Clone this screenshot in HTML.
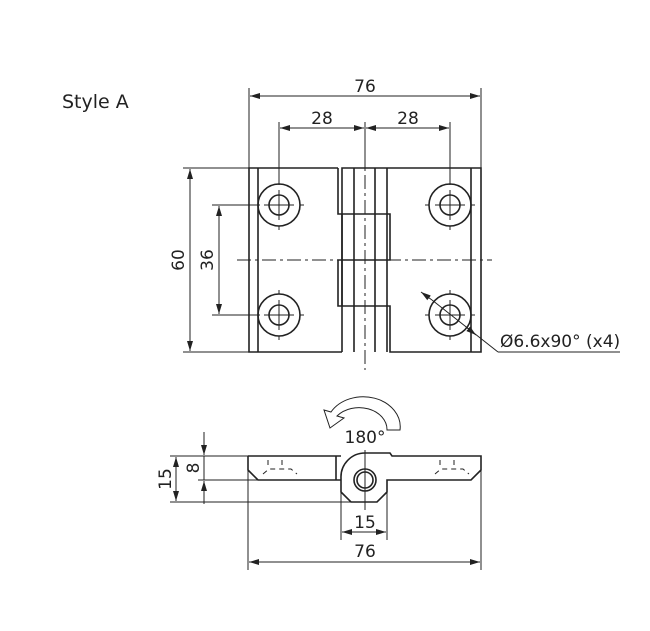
<!DOCTYPE html>
<html><head><meta charset="utf-8"><style>
html,body{margin:0;padding:0;background:#fff}
svg{display:block}
text{font-family:"DejaVu Sans","Liberation Sans",sans-serif;fill:#222}
</style></head><body>
<svg width="650" height="631" viewBox="0 0 650 631" xmlns="http://www.w3.org/2000/svg">
<defs>
<marker id="a" viewBox="0 0 10 6" refX="10" refY="3" markerWidth="10" markerHeight="6" orient="auto-start-reverse" markerUnits="userSpaceOnUse"><path d="M0,0 L10,3 L0,6 z" fill="#222"/></marker>
</defs>
<text x="62" y="108" font-size="19">Style A</text>
<g stroke="#222" fill="none" stroke-width="1">
<line x1="249" y1="88" x2="249" y2="168"/><line x1="481" y1="88" x2="481" y2="168"/>
<line x1="250" y1="96" x2="480" y2="96" marker-start="url(#a)" marker-end="url(#a)"/>
<line x1="279" y1="122" x2="279" y2="185"/><line x1="450" y1="122" x2="450" y2="185"/><line x1="365" y1="122" x2="365" y2="168"/>
<line x1="280" y1="128" x2="364" y2="128" marker-start="url(#a)" marker-end="url(#a)"/>
<line x1="366" y1="128" x2="449" y2="128" marker-start="url(#a)" marker-end="url(#a)"/>
<line x1="183" y1="168" x2="249" y2="168"/><line x1="183" y1="352" x2="249" y2="352"/>
<line x1="190" y1="169" x2="190" y2="351" marker-start="url(#a)" marker-end="url(#a)"/>
<line x1="212" y1="205" x2="260" y2="205"/><line x1="212" y1="315" x2="260" y2="315"/>
<line x1="219" y1="206" x2="219" y2="314" marker-start="url(#a)" marker-end="url(#a)"/>
</g>
<text x="0" y="0" font-size="17" transform="translate(184,260) rotate(-90)" text-anchor="middle">60</text>
<text x="0" y="0" font-size="17" transform="translate(213,260) rotate(-90)" text-anchor="middle">36</text>
<text x="365" y="92" font-size="17" text-anchor="middle">76</text>
<text x="322" y="124" font-size="17" text-anchor="middle">28</text>
<text x="408" y="124" font-size="17" text-anchor="middle">28</text>
<g stroke="#222" fill="none" stroke-width="1.6">
<path d="M338,168 H249 V352 H342"/>
<line x1="258" y1="168" x2="258" y2="352"/>
<path d="M338,168 V214 H390 V260 H338 V306 H390 V352 H481 V168 H342 V352"/>
<line x1="354" y1="168" x2="354" y2="352"/>
<line x1="375" y1="168" x2="375" y2="352"/>
<line x1="387" y1="168" x2="387" y2="352"/>
<line x1="471" y1="168" x2="471" y2="352"/>
<line x1="342" y1="214" x2="342" y2="306"/>
<circle cx="279" cy="205" r="21"/><circle cx="279" cy="205" r="10"/>
<circle cx="450" cy="205" r="21"/><circle cx="450" cy="205" r="10"/>
<circle cx="279" cy="315" r="21"/><circle cx="279" cy="315" r="10"/>
<circle cx="450" cy="315" r="21"/><circle cx="450" cy="315" r="10"/>
</g>
<g stroke="#222" stroke-width="1" fill="none" stroke-dasharray="14,4,3,4">
<line x1="237" y1="260" x2="492" y2="260"/>
<line x1="365" y1="150" x2="365" y2="370"/>
</g>
<g stroke="#222" stroke-width="1" fill="none">
<path d="M279,190 v30 M264,205 h30 M279,180 v4 M279,226 v4 M254,205 h4 M300,205 h4"/>
<path d="M450,190 v30 M435,205 h30 M450,180 v4 M450,226 v4 M425,205 h4 M471,205 h4"/>
<path d="M279,300 v30 M264,315 h30 M279,290 v4 M279,336 v4 M254,315 h4 M300,315 h4"/>
<path d="M450,300 v30 M435,315 h30 M450,290 v4 M450,336 v4 M425,315 h4 M471,315 h4"/>
</g>
<g stroke="#222" stroke-width="1" fill="none">
<line x1="421" y1="292" x2="432" y2="300" marker-start="url(#a)"/>
<line x1="432" y1="300" x2="498" y2="352" />
<line x1="466" y1="327" x2="476" y2="335" marker-end="url(#a)"/>
<line x1="498" y1="352" x2="620" y2="352"/>
</g>
<text x="500" y="347" font-size="17">Ø6.6x90° (x4)</text>
<g stroke="#222" stroke-width="1" fill="#fff">
<path d="M400,430 A37,30 0 0 0 331,412 L324,410 L330,428 L344,418 L337,416 A28,22 0 0 1 387,430 Z"/>
</g>
<text x="365" y="443" font-size="17" text-anchor="middle">180°</text>
<g stroke="#222" stroke-width="1.6" fill="none">
<path d="M248,456 H336 M248,456 V470 L258,480 H341"/>
<path d="M336,456 H341 M341,480 V492 L351,502 H377 L387,492 V480 H471 L481,470 V456 H392 L390,453 H365 A24,24 0 0 0 341,478 Z"/>
<line x1="336" y1="456" x2="336" y2="480"/>
<circle cx="365" cy="480" r="11"/><circle cx="365" cy="480" r="8"/>
</g>
<g stroke="#222" stroke-width="1" fill="none" stroke-dasharray="5,4">
<path d="M268,460 v6 M282,460 v6 M263,474 l6,-5 h22 l6,5"/>
<path d="M440,460 v6 M454,460 v6 M435,474 l6,-5 h22 l6,5"/>
</g>
<g stroke="#222" stroke-width="1" fill="none">
<line x1="365" y1="450" x2="365" y2="510"/>
<line x1="170" y1="456" x2="248" y2="456"/><line x1="198" y1="480" x2="260" y2="480"/><line x1="170" y1="502" x2="351" y2="502"/>
<line x1="176" y1="457" x2="176" y2="501" marker-start="url(#a)" marker-end="url(#a)"/>
<line x1="204" y1="432" x2="204" y2="455" marker-end="url(#a)"/>
<line x1="204" y1="504" x2="204" y2="481" marker-end="url(#a)"/>
<line x1="204" y1="456" x2="204" y2="480"/>
<line x1="341" y1="492" x2="341" y2="540"/><line x1="387" y1="492" x2="387" y2="540"/>
<line x1="342" y1="532" x2="386" y2="532" marker-start="url(#a)" marker-end="url(#a)"/>
<line x1="248" y1="470" x2="248" y2="570"/><line x1="481" y1="470" x2="481" y2="570"/>
<line x1="249" y1="562" x2="480" y2="562" marker-start="url(#a)" marker-end="url(#a)"/>
</g>
<text x="0" y="0" font-size="17" transform="translate(171,479) rotate(-90)" text-anchor="middle">15</text>
<text x="0" y="0" font-size="17" transform="translate(199,468) rotate(-90)" text-anchor="middle">8</text>
<text x="365" y="528" font-size="17" text-anchor="middle">15</text>
<text x="365" y="557" font-size="17" text-anchor="middle">76</text>
</svg>
</body></html>
